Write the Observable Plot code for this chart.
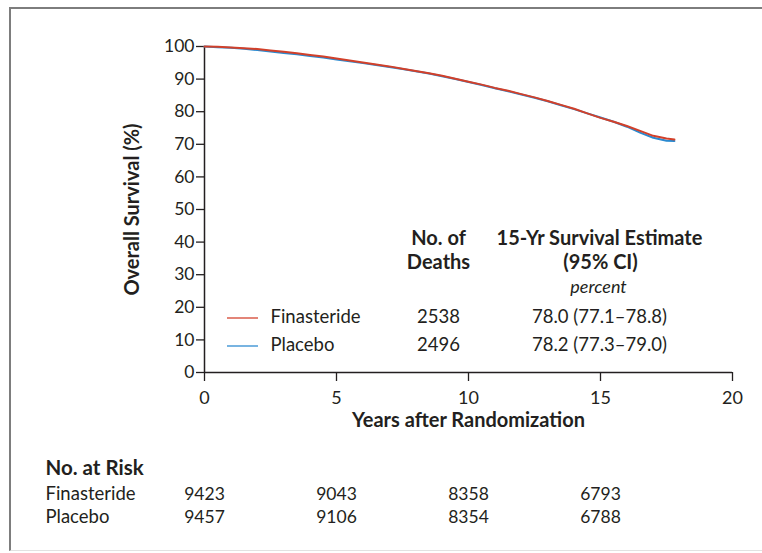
<!DOCTYPE html>
<html>
<head>
<meta charset="utf-8">
<script src="https://cdn.jsdelivr.net/npm/d3@7"></script>
<script src="https://cdn.jsdelivr.net/npm/@observablehq/plot@0.6"></script>
<style>
  html, body { margin: 0; padding: 0; background: #fff; }
  #wrap { position: relative; width: 762px; height: 553px; overflow: hidden; font-family: Lato, sans-serif; }
  #frame { position: absolute; left: 9px; top: 7px; width: 800px; height: 541px;
           border-left: 2px solid #7d7d7d; border-top: 2px solid #7d7d7d; border-bottom: 1px solid #e2e2e2; }
  #chart { position: absolute; left: 0; top: 0; }
</style>
</head>
<body>
<div id="wrap"><div id="frame"></div><div id="chart"></div></div>
<script>
// ---- data ----
const years = [0, 0.5, 1, 1.5, 2, 2.5, 3, 3.5, 4, 4.5, 5, 5.5, 6, 6.5, 7, 7.5, 8, 8.5, 9, 9.5, 10, 10.5, 11, 11.5, 12, 12.5, 13, 13.5, 14, 14.5, 15, 15.5, 16, 16.5, 17, 17.5, 17.8];
const finasterideSurvival = [100, 99.9, 99.7, 99.5, 99.2, 98.8, 98.4, 97.9, 97.4, 96.9, 96.3, 95.7, 95.1, 94.5, 93.9, 93.2, 92.5, 91.8, 91.0, 90.1, 89.2, 88.3, 87.3, 86.4, 85.4, 84.4, 83.3, 82.1, 80.9, 79.5, 78.1, 76.9, 75.6, 74.1, 72.6, 71.8, 71.5];
const placeboSurvival     = [100, 99.8, 99.6, 99.3, 98.9, 98.5, 98.0, 97.6, 97.1, 96.6, 96.0, 95.5, 94.9, 94.3, 93.7, 93.1, 92.4, 91.7, 90.9, 90.0, 89.1, 88.2, 87.2, 86.3, 85.3, 84.3, 83.2, 82.0, 80.8, 79.5, 78.2, 76.9, 75.4, 73.6, 72.0, 71.1, 71.0];
const seriesNames = ["Finasteride", "Placebo"];
const seriesColors = ["#d2402a", "#2a8ad0"];
const deaths = ["2538", "2496"];
const estimates = ["78.0 (77.1\u201378.8)", "78.2 (77.3\u201379.0)"];
const riskYears = [0, 5, 10, 15];
const riskFinasteride = [9423, 9043, 8358, 6793];
const riskPlacebo = [9457, 9106, 8354, 6788];
const xTicks = [0, 5, 10, 15, 20];
const yTicks = [0, 10, 20, 30, 40, 50, 60, 70, 80, 90, 100];

// ---- build tables ----
const curves = [];
years.forEach((t, i) => curves.push({series: "Placebo", t, s: placeboSurvival[i]}));
years.forEach((t, i) => curves.push({series: "Finasteride", t, s: finasterideSurvival[i]}));
const riskRows = [riskFinasteride, riskPlacebo].map(arr => riskYears.map((y, i) => ({year: y, n: String(arr[i])})));

const ink = "#231f20";
const color = {domain: seriesNames, range: seriesColors};
const M = {lineAnchor: "middle"};

const plot = Plot.plot({
  width: 762,
  height: 553,
  marginLeft: 204,
  marginRight: 30,
  marginTop: 46,
  marginBottom: 181,
  x: {domain: [0, 20]},
  y: {domain: [0, 100]},
  color,
  style: {fontFamily: "Lato, sans-serif", color: ink, background: "transparent", overflow: "visible"},
  marks: [
    Plot.axisY({ticks: yTicks, tickSize: 8, tickPadding: 2, fontSize: 17.5, label: null, strokeWidth: 1.3}),
    Plot.axisX({ticks: xTicks, tickSize: 9, tickPadding: 10, fontSize: 18, label: null, strokeWidth: 1.3}),
    Plot.ruleX([0], {stroke: ink, strokeWidth: 1.5}),
    Plot.ruleY([0], {stroke: ink, strokeWidth: 1.5}),
    Plot.line(curves, {x: "t", y: "s", z: "series", stroke: "series", strokeWidth: 2}),
    // axis titles
    Plot.text(["Overall Survival (%)"], {...M, frameAnchor: "left", textAnchor: "middle", dx: -72, rotate: -90, fontWeight: "bold", fontSize: 20}),
    Plot.text(["Years after Randomization"], {...M, frameAnchor: "bottom", dy: 48, fontWeight: "bold", fontSize: 20}),
    // legend table headers
    Plot.text(["No. of"], {...M, frameAnchor: "top-left", dx: 234, dy: 192.5, fontWeight: "bold", fontSize: 20, textAnchor: "middle"}),
    Plot.text(["Deaths"], {...M, frameAnchor: "top-left", dx: 234, dy: 216.5, fontWeight: "bold", fontSize: 20, textAnchor: "middle"}),
    Plot.text(["15-Yr Survival Estimate"], {...M, frameAnchor: "top-left", dx: 395, dy: 192.5, fontWeight: "bold", fontSize: 20, textAnchor: "middle"}),
    Plot.text(["(95% CI)"], {...M, frameAnchor: "top-left", dx: 396, dy: 216.5, fontWeight: "bold", fontSize: 20, textAnchor: "middle"}),
    Plot.text(["percent"], {...M, frameAnchor: "top-left", dx: 394, dy: 241, fontStyle: "italic", fontSize: 18, textAnchor: "middle"}),
    // legend rows
    Plot.text([seriesNames[0]], {...M, frameAnchor: "top-left", dx: 66, dy: 271, fontSize: 18.5, textAnchor: "start"}),
    Plot.text([seriesNames[1]], {...M, frameAnchor: "top-left", dx: 66, dy: 298.5, fontSize: 18.5, textAnchor: "start"}),
    Plot.text([deaths[0]], {...M, frameAnchor: "top-left", dx: 234, dy: 271, fontSize: 18.5, textAnchor: "middle"}),
    Plot.text([deaths[1]], {...M, frameAnchor: "top-left", dx: 234, dy: 298.5, fontSize: 18.5, textAnchor: "middle"}),
    Plot.text([estimates[0]], {...M, frameAnchor: "top-left", dx: 395, dy: 271, fontSize: 18.5, textAnchor: "middle"}),
    Plot.text([estimates[1]], {...M, frameAnchor: "top-left", dx: 395, dy: 298.5, fontSize: 18.5, textAnchor: "middle"}),
    // No. at risk
    Plot.text(["No. at Risk"], {...M, frameAnchor: "bottom-left", dx: -159, dy: 96, fontWeight: "bold", fontSize: 20.5, textAnchor: "start"}),
    Plot.text([seriesNames[0]], {...M, frameAnchor: "bottom-left", dx: -159, dy: 122, fontSize: 18.5, textAnchor: "start"}),
    Plot.text([seriesNames[1]], {...M, frameAnchor: "bottom-left", dx: -159, dy: 145, fontSize: 18.5, textAnchor: "start"}),
    Plot.text(riskRows[0], {...M, x: "year", text: "n", frameAnchor: "bottom", dy: 122, fontSize: 17.5}),
    Plot.text(riskRows[1], {...M, x: "year", text: "n", frameAnchor: "bottom", dy: 145, fontSize: 17.5})
  ]
});

document.getElementById("chart").appendChild(plot);

// legend swatches
const svg = d3.select(plot);
const sx = 204 + 23, ex = 204 + 54;
[[318, seriesColors[0]], [346, seriesColors[1]]].forEach(([y, c]) => {
  svg.append("line").attr("x1", sx).attr("x2", ex).attr("y1", y).attr("y2", y)
    .attr("stroke", c).attr("stroke-width", 1.5).attr("stroke-opacity", 0.85);
});
</script>
</body>
</html>
